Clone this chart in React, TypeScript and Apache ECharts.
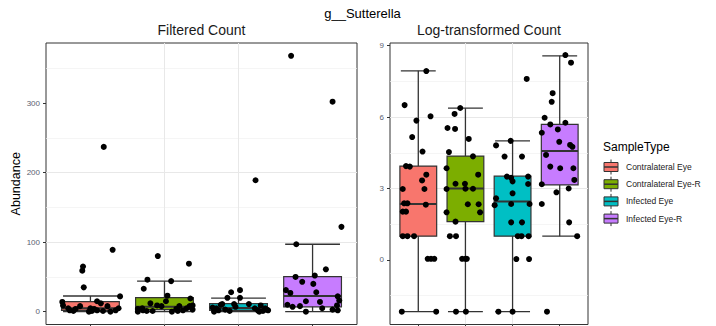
import React, { useEffect, useRef } from 'react';
import * as echarts from 'echarts';

const categories = ['Contralateral Eye', 'Contralateral Eye-R', 'Infected Eye', 'Infected Eye-R'];
const fillColors = ['#F8766D', '#7CAE00', '#00BFC4', '#C77CFF'];

// Box statistics per category: [lower whisker, Q1, median, Q3, upper whisker]
const filteredBoxes = [
  [0, 2, 5, 14.5, 22.6],
  [0, 3, 7, 20.2, 44],
  [0, 2, 5.5, 11.5, 19.5],
  [0, 7, 22.6, 50.5, 97],
];
const logBoxes = [
  [-2.17, 1.0, 2.35, 3.94, 7.94],
  [-2.17, 1.61, 3.0, 4.36, 6.37],
  [-2.17, 1.0, 2.46, 3.52, 5.0],
  [1.0, 3.15, 4.57, 5.69, 8.57],
];

// Jittered points: [jitter offset from category, value]
const filteredContralateral = [[0.18, 237], [0.3, 89], [-0.1, 65], [-0.11, 59], [-0.09, 35], [0.4, 22], [0.09, 15], [0.14, 12], [-0.38, 14], [-0.37, 9], [-0.14, 8], [0.23, 8], [0.38, 5], [-0.3, 5], [0.0, 5], [-0.2, 4], [0.05, 4], [0.09, 2], [0.34, 2], [-0.28, 2], [-0.23, 1], [0.02, 1], [0.17, 1], [-0.02, 0], [0.27, 0]];
const filteredContralateralR = [[-0.09, 80], [0.33, 69], [-0.23, 46], [0.09, 44], [-0.28, 33], [0.04, 23], [0.35, 19], [0.02, 15], [-0.19, 12], [0.38, 9], [-0.1, 9], [0.34, 8], [-0.04, 8], [0.2, 8], [0.3, 5], [-0.3, 5], [0.16, 4], [-0.36, 4], [0.38, 3], [-0.29, 2], [0.25, 2], [-0.24, 1], [0.18, 1], [-0.16, 1], [-0.36, 0], [0.1, 0]];
const filteredInfected = [[0.23, 189], [0.02, 31], [-0.1, 28], [0.02, 20], [-0.15, 20], [0.14, 11], [-0.22, 11], [-0.06, 11], [-0.24, 10], [0.3, 9], [-0.04, 7], [-0.35, 6], [-0.3, 5], [0.22, 5], [0.36, 5], [-0.18, 3], [0.38, 3], [-0.27, 2], [0.26, 2], [0.4, 2], [-0.12, 1], [0.33, 1], [-0.33, 0], [0.28, 0]];
const filteredInfectedR = [[-0.29, 368], [0.27, 302], [0.39, 122], [-0.22, 97], [0.18, 61], [-0.23, 50], [0.03, 52], [-0.14, 43], [0.01, 40], [-0.36, 31], [0.05, 28], [-0.3, 27], [0.34, 22], [0.36, 16], [-0.09, 15], [0.1, 14], [-0.34, 10], [0.33, 9], [-0.27, 7], [-0.17, 8], [0.13, 5], [0.27, 3], [0.34, 2], [-0.09, 0]];

const logContralateral = [[0.17, 7.93], [-0.29, 6.5], [-0.04, 5.85], [0.26, 6.03], [-0.13, 5.16], [0.09, 4.55], [-0.26, 3.94], [-0.18, 3.92], [0.17, 3.58], [0.08, 3.34], [-0.33, 2.98], [0.13, 2.98], [-0.3, 2.38], [-0.23, 2.38], [0.16, 2.32], [-0.33, 2.03], [-0.26, 2.03], [-0.33, 1.0], [-0.23, 1.0], [-0.09, 1.0], [0.2, 0.05], [0.27, 0.05], [0.34, 0.05], [-0.35, -2.17], [0.38, -2.17]];
const logContralateralR = [[-0.11, 6.38], [-0.23, 6.13], [-0.38, 5.54], [-0.22, 5.5], [0.07, 5.08], [-0.35, 4.53], [0.16, 4.35], [-0.4, 3.85], [0.27, 3.58], [-0.21, 3.2], [-0.01, 3.2], [-0.4, 2.98], [0.0, 2.99], [0.16, 2.99], [0.05, 2.34], [0.28, 2.34], [-0.4, 2.0], [0.31, 2.0], [-0.21, 1.61], [-0.33, 1.0], [-0.2, 1.0], [-0.07, 0.05], [0.0, 0.05], [0.03, 0.05], [-0.2, -2.17], [0.01, -2.17]];
const logInfected = [[0.3, 7.6], [-0.04, 5.0], [-0.35, 4.81], [-0.17, 4.34], [0.2, 4.34], [-0.12, 3.5], [-0.03, 3.45], [0.33, 3.5], [0.0, 3.3], [0.33, 3.19], [-0.35, 2.59], [0.0, 2.8], [-0.38, 2.3], [-0.03, 2.35], [0.36, 2.35], [-0.03, 1.58], [0.2, 1.58], [0.11, 1.0], [0.19, 1.0], [0.34, 1.0], [0.08, 0.04], [0.35, 0.04], [-0.3, -2.17], [0.0, -2.17]];
const logInfectedR = [[0.12, 8.6], [0.24, 8.28], [-0.15, 7.0], [-0.17, 6.64], [-0.32, 5.97], [-0.2, 5.69], [0.12, 5.76], [-0.38, 5.34], [-0.04, 5.48], [-0.01, 4.96], [0.22, 4.83], [0.27, 4.75], [-0.29, 4.41], [-0.2, 3.92], [0.01, 3.85], [0.29, 3.85], [0.31, 3.36], [-0.38, 3.18], [-0.07, 2.84], [0.19, 3.0], [-0.38, 2.35], [0.2, 1.58], [0.37, 1.0], [-0.27, -2.17]];

const filteredTicks = [0, 100, 200, 300];
const logTicks = [0, 3, 6, 9];

const FONT = '"Liberation Sans", Arial, Helvetica, sans-serif';
const STROKE = '#333333';

function boxSeries(boxes: number[][], axisIndex: number) {
  return {
    type: 'custom',
    xAxisIndex: axisIndex,
    yAxisIndex: axisIndex,
    z: 2,
    silent: true,
    data: boxes.map((b, i) => [i + 1, ...b]),
    encode: { x: 0, y: [1, 2, 3, 4, 5] },
    renderItem: (params: any, api: any) => {
      const x = api.value(0);
      const lo = api.coord([x, api.value(1)]);
      const q1 = api.coord([x, api.value(2)]);
      const md = api.coord([x, api.value(3)]);
      const q3 = api.coord([x, api.value(4)]);
      const hi = api.coord([x, api.value(5)]);
      const bw = api.size([0.78, 0])[0];
      const cw = api.size([0.74, 0])[0];
      const cx = lo[0];
      const ls = { stroke: STROKE, lineWidth: 1.3 };
      return {
        type: 'group',
        children: [
          { type: 'line', shape: { x1: cx, y1: hi[1], x2: cx, y2: lo[1] }, style: ls },
          { type: 'line', shape: { x1: cx - cw / 2, y1: hi[1], x2: cx + cw / 2, y2: hi[1] }, style: ls },
          { type: 'line', shape: { x1: cx - cw / 2, y1: lo[1], x2: cx + cw / 2, y2: lo[1] }, style: ls },
          {
            type: 'rect',
            shape: { x: cx - bw / 2, y: q3[1], width: bw, height: q1[1] - q3[1] },
            style: { fill: fillColors[params.dataIndex], stroke: STROKE, lineWidth: 1.2 },
          },
          { type: 'line', shape: { x1: cx - bw / 2, y1: md[1], x2: cx + bw / 2, y2: md[1] }, style: { stroke: STROKE, lineWidth: 2 } },
        ],
      };
    },
  };
}

function pointSeries(groups: number[][][], axisIndex: number) {
  return {
    type: 'scatter',
    xAxisIndex: axisIndex,
    yAxisIndex: axisIndex,
    z: 3,
    silent: true,
    symbolSize: 6,
    itemStyle: { color: '#000000', opacity: 1 },
    data: groups.flatMap((pts, g) => pts.map(([o, v]) => [g + 1 + o, v])),
  };
}

function xAxisOpt(gridIndex: number) {
  return {
    gridIndex,
    type: 'value',
    position: 'bottom',
    min: 0.4,
    max: 4.6,
    minInterval: 1,
    maxInterval: 1,
    axisLine: { show: false, onZero: false },
    axisTick: { show: true, customValues: [1, 2, 3, 4], length: 3, lineStyle: { color: STROKE } },
    axisLabel: { show: false },
    splitLine: { show: true, showMinLine: false, showMaxLine: false, lineStyle: { color: '#E8E8E8', width: 1 } },
  };
}

function yAxisOpt(gridIndex: number, min: number, max: number, step: number, ticks: number[]) {
  return {
    gridIndex,
    type: 'value',
    min,
    max,
    minInterval: step,
    maxInterval: step,
    axisLine: { show: false, onZero: false },
    axisTick: { show: true, customValues: ticks, length: 3, lineStyle: { color: STROKE } },
    axisLabel: {
      customValues: ticks,
      fontSize: 8,
      color: '#5A6170',
      margin: 6,
      fontFamily: FONT,
      formatter: (v: number) => (ticks.includes(v) ? String(v) : ''),
    },
    splitLine: { show: true, showMinLine: false, showMaxLine: false, lineStyle: { color: '#E8E8E8', width: 1 } },
    minorTick: { show: false, splitNumber: 2 },
    minorSplitLine: { show: true, lineStyle: { color: '#F0F0F0', width: 0.7 } },
  };
}

export default function App() {
  const ref = useRef<HTMLDivElement>(null);
  useEffect(() => {
    if (!ref.current) return;
    const chart = echarts.init(ref.current, null, { renderer: 'svg' });

    const legendChildren: any[] = [
      { type: 'text', x: 603, y: 147, style: { text: 'SampleType', fontSize: 12, fontFamily: FONT, fill: '#000', verticalAlign: 'middle' } },
    ];
    categories.forEach((c, i) => {
      const ry = 167 + i * 17.2;
      legendChildren.push(
        { type: 'line', shape: { x1: 611, y1: ry - 7.5, x2: 611, y2: ry + 7.5 }, style: { stroke: STROKE, lineWidth: 1 } },
        { type: 'rect', shape: { x: 604, y: ry - 4.5, width: 14, height: 9 }, style: { fill: fillColors[i], stroke: STROKE, lineWidth: 1 } },
        { type: 'line', shape: { x1: 604, y1: ry, x2: 618, y2: ry }, style: { stroke: STROKE, lineWidth: 1.5 } },
        { type: 'text', x: 626, y: ry, style: { text: c, fontSize: 8.5, fontFamily: FONT, fill: '#1A1A1A', verticalAlign: 'middle' } },
      );
    });

    chart.setOption({
      animation: false,
      backgroundColor: '#FFFFFF',
      textStyle: { fontFamily: FONT },
      grid: [
        { left: 46, top: 43, width: 311, height: 281.5, show: true, borderColor: STROKE, borderWidth: 1, backgroundColor: '#FFFFFF', containLabel: false },
        { left: 390, top: 43, width: 198, height: 281.5, show: true, borderColor: STROKE, borderWidth: 1, backgroundColor: '#FFFFFF', containLabel: false },
      ],
      xAxis: [xAxisOpt(0), xAxisOpt(1)],
      yAxis: [
        {
          ...yAxisOpt(0, -18.4, 386.4, 100, filteredTicks),
          name: 'Abundance',
          nameLocation: 'middle',
          nameGap: 22,
          nameTextStyle: { fontSize: 12.5, color: '#000', fontFamily: FONT },
        },
        yAxisOpt(1, -2.707, 9.107, 3, logTicks),
      ],
      graphic: [
        { type: 'text', x: 362.5, y: 13, style: { text: 'g__Sutterella', fontSize: 13, fontFamily: FONT, fill: '#000', align: 'center', verticalAlign: 'middle' } },
        { type: 'text', x: 201.5, y: 30, style: { text: 'Filtered Count', fontSize: 14, fontFamily: FONT, fill: '#1A1A1A', align: 'center', verticalAlign: 'middle' } },
        { type: 'text', x: 489, y: 30, style: { text: 'Log-transformed Count', fontSize: 14, fontFamily: FONT, fill: '#1A1A1A', align: 'center', verticalAlign: 'middle' } },
        { type: 'group', children: legendChildren },
      ],
      series: [
        boxSeries(filteredBoxes, 0),
        pointSeries([filteredContralateral, filteredContralateralR, filteredInfected, filteredInfectedR], 0),
        boxSeries(logBoxes, 1),
        pointSeries([logContralateral, logContralateralR, logInfected, logInfectedR], 1),
      ],
    });
    return () => chart.dispose();
  }, []);
  return <div ref={ref} style={{ position: 'fixed', left: 0, top: 0, width: 716, height: 326 }} />;
}
